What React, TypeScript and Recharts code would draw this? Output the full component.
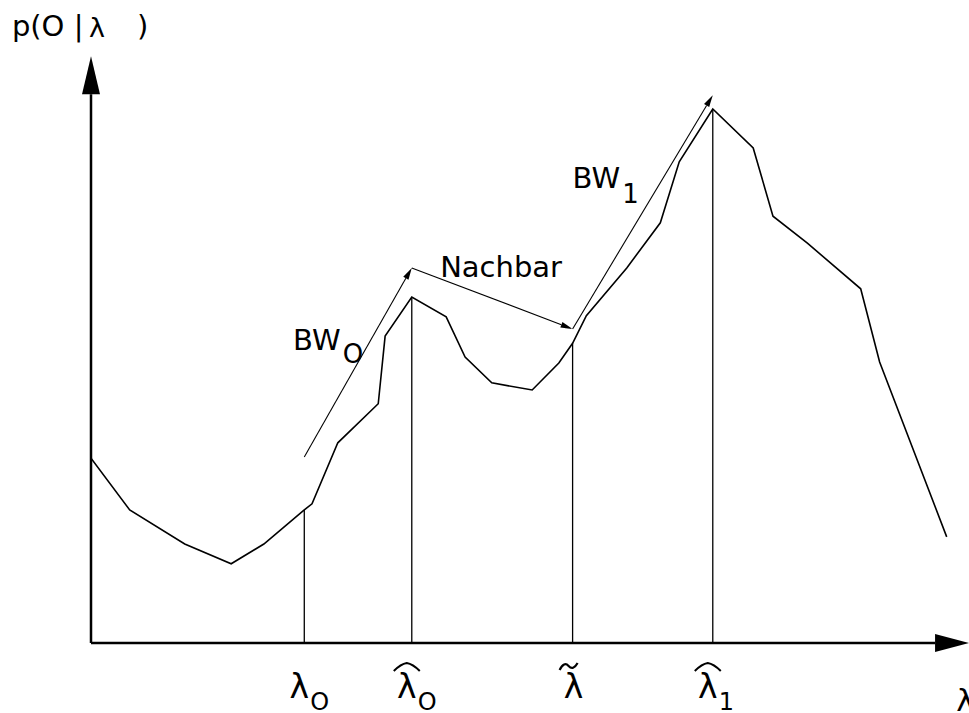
import { LineChart, Line, XAxis, YAxis, ReferenceLine, ReferenceDot } from "recharts";

// likelihood p(O|lambda) over the model parameter lambda (arbitrary units)
const lambda = [
  0, 4.5, 10.9, 16.3, 20.1, 24.8, 25.7, 28.7, 33.4, 34.2, 37.3, 41.3, 43.5, 46.6,
  51.3, 54.4, 56.0, 57.6, 62.3, 66.2, 68.4, 72.3, 77.0, 79.3, 83.3, 89.5, 91.7, 99.5,
];
const likelihood = [
  33.6, 24.2, 18.0, 14.4, 18.0, 24.2, 25.3, 36.4, 43.5, 55.8, 62.9, 59.3, 52.0, 47.3,
  46.0, 50.9, 54.5, 59.5, 68.2, 76.4, 87.5, 97.1, 90.0, 77.6, 72.7, 64.4, 51.1, 19.3,
];

// marked points on the curve (index into the samples above)
const markerIdx = [5, 10, 16, 21];
const markerAccent = ["", "hat", "tilde", "hat"];
const markerSub = ["O", "O", "", "1"];

// optimisation steps drawn as arrows
const stepFrom = [[24.8, 33.8], [37.3, 68.2], [56.0, 57.1]];
const stepTo = [[37.3, 68.2], [56.0, 57.1], [72.3, 99.6]];
const stepLabel = ["BW", "Nachbar", "BW"];
const stepSub = ["O", "", "1"];
const stepLabelAt = [[23.5, 53.3], [40.6, 66.5], [56.0, 82.7]];

const data = lambda.map((l, i) => ({ l, p: likelihood[i] }));
const markerTicks = markerIdx.map((i) => lambda[i]);

const FONT = "DejaVu Sans, sans-serif";

const arrow = (len: number, half: number, width: number) => (props: any) => {
  const { x1, y1, x2, y2 } = props;
  const dx = x2 - x1;
  const dy = y2 - y1;
  const d = Math.hypot(dx, dy) || 1;
  const ux = dx / d;
  const uy = dy / d;
  const bx = x2 - ux * len;
  const by = y2 - uy * len;
  return (
    <g>
      <line x1={x1} y1={y1} x2={bx} y2={by} stroke="#000" strokeWidth={width} />
      <polygon
        points={`${x2},${y2} ${bx - uy * half},${by + ux * half} ${bx + uy * half},${by - ux * half}`}
        fill="#000"
      />
    </g>
  );
};

const MarkerTick = (props: any) => {
  const { x, y, index } = props;
  const accent = markerAccent[index];
  const sub = markerSub[index];
  const cx = x + (sub ? -5 : 1);
  return (
    <g fontFamily={FONT} fill="#000">
      <text x={cx} y={y + 55} fontSize={33} textAnchor="middle">λ</text>
      {sub && (
        <text x={cx + 11} y={y + 67} fontSize={24}>{sub}</text>
      )}
      {accent === "hat" && (
        <path
          d={`M${cx - 13},${y + 28} Q${cx - 6},${y + 21} ${cx},${y + 20} Q${cx + 6},${y + 21} ${cx + 13},${y + 28}`}
          fill="none"
          stroke="#000"
          strokeWidth={2}
        />
      )}
      {accent === "tilde" && (
        <path
          d={`M${cx - 14},${y + 27} Q${cx - 9.5},${y + 18} ${cx - 5},${y + 23} T${cx + 4},${y + 20}`}
          fill="none"
          stroke="#000"
          strokeWidth={2.2}
        />
      )}
    </g>
  );
};

export default function App() {
  return (
    <div style={{ position: "absolute", left: 0, top: 0 }}>
      <LineChart
        width={969}
        height={713}
        data={data}
        margin={{ top: 93, right: 18, bottom: 0, left: 91 }}
      >
        <XAxis
          dataKey="l"
          type="number"
          domain={[0, 100]}
          allowDataOverflow
          ticks={markerTicks}
          interval={0}
          axisLine={false}
          tickLine={false}
          tickSize={0}
          tickMargin={0}
          height={70}
          tick={<MarkerTick />}
        />
        <YAxis type="number" domain={[0, 100]} allowDataOverflow hide />

        {/* axes with arrow heads */}
        <ReferenceLine
          segment={[{ x: 0, y: 0 }, { x: 0, y: 106.7 }]}
          ifOverflow="visible"
          shape={arrow(38, 9, 2.5)}
        />
        <ReferenceLine
          segment={[{ x: 0, y: 0 }, { x: 102.1, y: 0 }]}
          ifOverflow="visible"
          shape={arrow(34, 9, 2.5)}
        />

        {/* drop lines from the marked points */}
        {markerIdx.map((i) => (
          <ReferenceLine
            key={`drop-${i}`}
            segment={[{ x: lambda[i], y: 0 }, { x: lambda[i], y: likelihood[i] }]}
            ifOverflow="visible"
            stroke="#000"
            strokeWidth={1.3}
          />
        ))}

        <Line
          dataKey="p"
          type="linear"
          stroke="#000"
          strokeWidth={1.6}
          dot={false}
          activeDot={false}
          isAnimationActive={false}
        />

        {stepFrom.map((f, i) => (
          <ReferenceLine
            key={`step-${i}`}
            segment={[{ x: f[0], y: f[1] }, { x: stepTo[i][0], y: stepTo[i][1] }]}
            ifOverflow="visible"
            shape={arrow(12, 3, 1.1)}
          />
        ))}

        {stepLabel.map((t, i) => (
          <ReferenceDot
            key={`label-${i}`}
            x={stepLabelAt[i][0]}
            y={stepLabelAt[i][1]}
            r={0}
            ifOverflow="visible"
            shape={(p: any) => (
              <text x={p.cx} y={p.cy} fontFamily={FONT} fontSize={29} fill="#000">
                {t}
                {stepSub[i] && (
                  <tspan dx={2} dy={i === 0 ? 13 : 15} fontSize={26}>
                    {stepSub[i]}
                  </tspan>
                )}
              </text>
            )}
          />
        ))}

        {/* axis titles */}
        <ReferenceDot
          x={-9.2}
          y={110.4}
          r={0}
          ifOverflow="visible"
          shape={(p: any) => (
            <g fontFamily={FONT} fill="#000">
              <text x={p.cx} y={p.cy} fontSize={29}>p(O |</text>
              <text x={p.cx + 77} y={p.cy + 1} fontSize={27}>λ</text>
              <text x={p.cx + 125} y={p.cy} fontSize={29}>)</text>
            </g>
          )}
        />
        <ReferenceDot
          x={100.6}
          y={-12.4}
          r={0}
          ifOverflow="visible"
          shape={(p: any) => (
            <text x={p.cx} y={p.cy} fontFamily={FONT} fontSize={31} fill="#000">
              λ
            </text>
          )}
        />
      </LineChart>
    </div>
  );
}
